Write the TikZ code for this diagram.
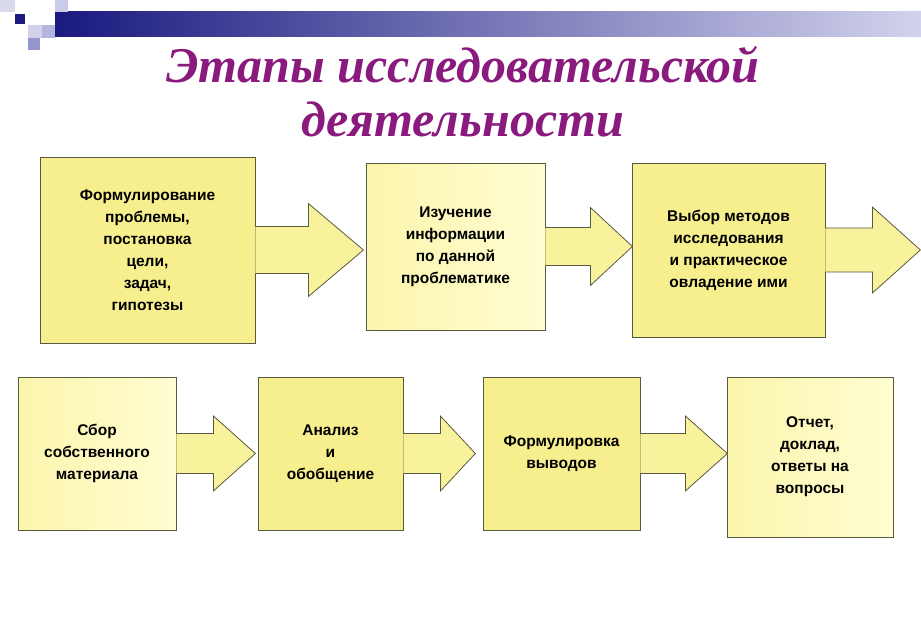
\documentclass[tikz,border=0pt]{standalone}
\usepackage{fontspec}
\setmainfont{Liberation Sans}
\newfontfamily\titlefont{Liberation Serif}
\usetikzlibrary{calc}
\definecolor{navy}{HTML}{1A1A80}
\definecolor{lavender}{HTML}{B4B4E0}
\definecolor{titlepurple}{HTML}{8A1A7E}
\definecolor{deepyellow}{HTML}{F7EF8E}
\definecolor{paleyellow}{HTML}{FFFDD2}
\definecolor{edgegray}{HTML}{5A5A40}

\tikzset{
    stagebox/.style={rectangle, draw=edgegray, line width=0.8pt, inner sep=2pt,
        align=center, font=\bfseries\fontsize{15.5}{22}\selectfont},
    strongbox/.style={stagebox, fill=deepyellow},
    softbox/.style={stagebox, left color=deepyellow!55!paleyellow, right color=paleyellow},
    stagearrow/.style={draw=edgegray, line width=0.8pt, fill=deepyellow!80!paleyellow, line join=miter}
}

% arrow stuck on the right side of a box:
% #1 box, #2 head base, #3 tip, #4 shaft half height, #5 head half height
\newcommand{\stagearrow}[5]{%
    \filldraw[stagearrow] ([yshift=#4pt]#1.east) -- ([xshift=#2pt,yshift=#4pt]#1.east)
        -- ([xshift=#2pt,yshift=#5pt]#1.east) -- ([xshift=#3pt]#1.east)
        -- ([xshift=#2pt,yshift=-#5pt]#1.east) -- ([xshift=#2pt,yshift=-#4pt]#1.east)
        -- ([yshift=-#4pt]#1.east);
}

\begin{document}
\begin{tikzpicture}[x=1pt, y=-1pt]
    \useasboundingbox[fill=white] (0,0) rectangle (921,634);

    % header bar and squares
    \shade[left color=navy, right color=lavender!60!white] (55,12) rectangle (921,37);
    \fill[lavender!50] (0,0) rectangle (15,12);
    \fill[lavender!70] (55,0) rectangle (68,12);
    \fill[navy] (15,14) rectangle (25,24);
    \fill[lavender!60] (28,25) rectangle (42,38);
    \fill[lavender] (42,25) rectangle (55,38);
    \fill[lavender!80!navy] (28,38) rectangle (40,50);

    % title
    \node[font=\titlefont\bfseries\itshape\fontsize{50}{54}\selectfont, text=titlepurple, align=center]
        (title) at (463,92) {Этапы исследовательской\\деятельности};

    % top row
    \node[strongbox, minimum width=215pt, minimum height=186pt] (formul) at (147.5,250)
        {Формулирование\\проблемы,\\постановка\\цели,\\задач,\\гипотезы};
    \node[softbox, minimum width=179pt, minimum height=167pt] (study) at (455.5,246.5)
        {Изучение\\информации\\по данной\\проблематике};
    \node[strongbox, minimum width=193pt, minimum height=174pt] (methods) at (728.5,250)
        {Выбор методов\\исследования\\и практическое\\овладение ими};

    % bottom row
    \node[softbox, minimum width=158pt, minimum height=153pt] (collect) at (97,453.5)
        {Сбор\\собственного\\материала};
    \node[strongbox, minimum width=145pt, minimum height=153pt] (analysis) at (330.5,453.5)
        {Анализ\\и\\обобщение};
    \node[strongbox, minimum width=157pt, minimum height=153pt] (conclude) at (561.5,453.5)
        {Формулировка\\выводов};
    \node[softbox, minimum width=166pt, minimum height=160pt] (report) at (810,457)
        {Отчет,\\доклад,\\ответы на\\вопросы};

    % arrows
    \stagearrow{formul}{53}{108}{23.5}{46.5}
    \stagearrow{study}{45}{87}{19}{39}
    \stagearrow{methods}{47}{95}{22}{43}
    \stagearrow{collect}{37}{79}{20}{37.5}
    \stagearrow{analysis}{37}{72}{20}{37.5}
    \stagearrow{conclude}{45}{87}{20}{37.5}
\end{tikzpicture}
\end{document}
